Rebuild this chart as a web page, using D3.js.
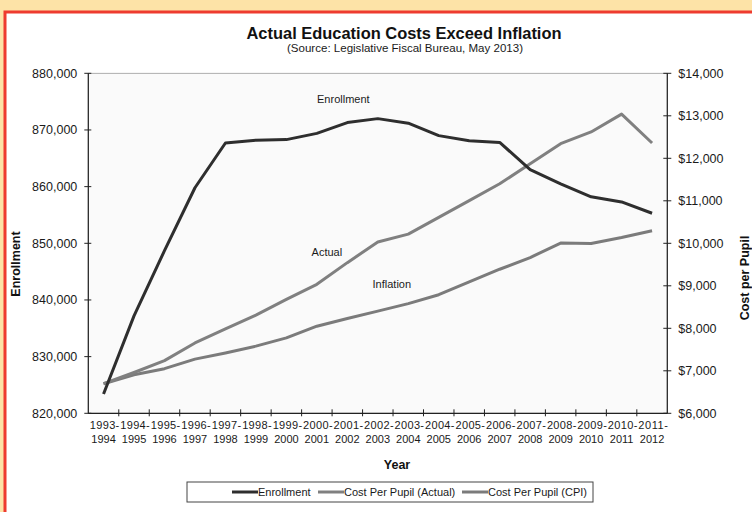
<!DOCTYPE html>
<html>
<head>
<meta charset="utf-8">
<script src="https://cdn.jsdelivr.net/npm/d3@7"></script>
<style>
  body { margin: 0; background: #fde3a7; }
  svg { display: block; font-family: "Liberation Sans", Arial, sans-serif; }
  .tick-y { font-size: 12.5px; fill: #1a1a1a; }
  .tick-x { font-size: 11px; fill: #1a1a1a; }
  .series { fill: none; stroke-width: 3; stroke-linejoin: round; }
</style>
</head>
<body>
<svg id="chart"></svg>
<script>
const categories = ["1993-1994", "1994-1995", "1995-1996", "1996-1997", "1997-1998", "1998-1999",
  "1999-2000", "2000-2001", "2001-2002", "2002-2003", "2003-2004", "2004-2005", "2005-2006",
  "2006-2007", "2007-2008", "2008-2009", "2009-2010", "2010-2011", "2011-2012"];

const enrollment = [823400, 837200, 848700, 859800, 867700, 868200, 868300, 869400, 871300, 872000,
  871200, 869000, 868100, 867800, 863000, 860500, 858200, 857300, 855300];

const costActual = [6695, 6960, 7240, 7655, 7985, 8310, 8680, 9035, 9545, 10030,
  10215, 10610, 11005, 11400, 11870, 12345, 12620, 13040, 12360];

const costCPI = [6695, 6905, 7050, 7275, 7420, 7580, 7775, 8050, 8230, 8405,
  8580, 8790, 9090, 9390, 9665, 10005, 9995, 10135, 10295];

const leftTicks = [820000, 830000, 840000, 850000, 860000, 870000, 880000];
const rightTicks = [6000, 7000, 8000, 9000, 10000, 11000, 12000, 13000, 14000];

const width = 752;
const height = 512;
const margin = { top: 73.3, right: 84.7, bottom: 98.7, left: 88.3 };

const svg = d3.select("#chart").attr("width", width).attr("height", height);

// frame: white box with red border over the orange page
svg.append("rect")
  .attr("x", 5).attr("y", 12)
  .attr("width", width + 20).attr("height", height + 20)
  .attr("fill", "#ffffff")
  .attr("stroke", "#ee3b2f")
  .attr("stroke-width", 3);

const x = d3.scaleBand()
  .domain(categories)
  .range([margin.left, width - margin.right])
  .padding(0);

const yLeft = d3.scaleLinear()
  .domain([820000, 880000])
  .range([height - margin.bottom, margin.top]);

const yRight = d3.scaleLinear()
  .domain([6000, 14000])
  .range([height - margin.bottom, margin.top]);

const cx = (d, i) => x(categories[i]) + x.bandwidth() / 2;

// plot area
svg.append("rect")
  .attr("x", margin.left).attr("y", margin.top)
  .attr("width", width - margin.right - margin.left)
  .attr("height", height - margin.bottom - margin.top)
  .attr("fill", "#fafafa")
  .attr("stroke", "#9a9a9a")
  .attr("stroke-width", 0.8);

// left axis
const gL = svg.append("g");
gL.append("line")
  .attr("x1", margin.left).attr("x2", margin.left)
  .attr("y1", margin.top).attr("y2", height - margin.bottom)
  .attr("stroke", "#222").attr("stroke-width", 1.2);
gL.selectAll("line.t").data(leftTicks).enter().append("line")
  .attr("class", "t")
  .attr("x1", margin.left - 4).attr("x2", margin.left + 3)
  .attr("y1", d => yLeft(d)).attr("y2", d => yLeft(d))
  .attr("stroke", "#222");
gL.selectAll("text").data(leftTicks).enter().append("text")
  .attr("class", "tick-y")
  .attr("x", margin.left - 11)
  .attr("y", d => yLeft(d))
  .attr("dy", "0.35em")
  .attr("text-anchor", "end")
  .text(d => d3.format(",")(d));

// right axis
const xr = width - margin.right;
const gR = svg.append("g");
gR.append("line")
  .attr("x1", xr).attr("x2", xr)
  .attr("y1", margin.top).attr("y2", height - margin.bottom)
  .attr("stroke", "#222").attr("stroke-width", 1.2);
gR.selectAll("line.t").data(rightTicks).enter().append("line")
  .attr("class", "t")
  .attr("x1", xr - 4).attr("x2", xr + 4)
  .attr("y1", d => yRight(d)).attr("y2", d => yRight(d))
  .attr("stroke", "#222");
gR.selectAll("text").data(rightTicks).enter().append("text")
  .attr("class", "tick-y")
  .attr("x", xr + 11)
  .attr("y", d => yRight(d))
  .attr("dy", "0.35em")
  .text(d => "$" + d3.format(",")(d));

// bottom axis
const yb = height - margin.bottom;
const gB = svg.append("g");
gB.append("line")
  .attr("x1", margin.left).attr("x2", xr)
  .attr("y1", yb).attr("y2", yb)
  .attr("stroke", "#222").attr("stroke-width", 1.2);
gB.selectAll("line.t").data(categories.slice(1)).enter().append("line")
  .attr("class", "t")
  .attr("x1", d => x(d)).attr("x2", d => x(d))
  .attr("y1", yb - 4).attr("y2", yb + 3)
  .attr("stroke", "#222");
const xl = gB.selectAll("text").data(categories).enter().append("text")
  .attr("class", "tick-x")
  .attr("text-anchor", "middle")
  .attr("transform", d => `translate(${x(d) + x.bandwidth() / 2},${yb + 16})`);
xl.append("tspan").attr("x", 1).attr("y", 0)
  .attr("textLength", 29.5).attr("lengthAdjust", "spacing")
  .text(d => d.split("-")[0] + "-");
xl.append("tspan").attr("x", 0).attr("y", 14).text(d => d.split("-")[1]);

// series
const lineL = d3.line().x(cx).y(d => yLeft(d));
const lineR = d3.line().x(cx).y(d => yRight(d));

svg.append("path").datum(costCPI).attr("class", "series")
  .attr("stroke", "#7b7b7b").attr("d", lineR);
svg.append("path").datum(costActual).attr("class", "series")
  .attr("stroke", "#808080").attr("d", lineR);
svg.append("path").datum(enrollment).attr("class", "series")
  .attr("stroke", "#2e2e2e").attr("d", lineL);

// in-plot labels
const inLabels = [
  { text: "Enrollment", i: 8, v: 875500, axis: "L", dx: -4 },
  { text: "Actual", i: 7, v: 9800, axis: "R", dx: 10 },
  { text: "Inflation", i: 9, v: 9030, axis: "R", dx: 14 }
];
svg.selectAll("text.inl").data(inLabels).enter().append("text")
  .attr("class", "inl")
  .attr("font-size", 11)
  .attr("fill", "#1a1a1a")
  .attr("text-anchor", "middle")
  .attr("x", d => x(categories[d.i]) + x.bandwidth() / 2 + d.dx)
  .attr("y", d => (d.axis === "L" ? yLeft(d.v) : yRight(d.v)))
  .attr("dy", "0.35em")
  .text(d => d.text);

// titles
svg.append("text")
  .attr("x", 404).attr("y", 38.5)
  .attr("text-anchor", "middle")
  .attr("font-size", 16).attr("font-weight", "bold")
  .attr("textLength", 315).attr("lengthAdjust", "spacingAndGlyphs")
  .attr("fill", "#111")
  .text("Actual Education Costs Exceed Inflation");
svg.append("text")
  .attr("x", 405).attr("y", 51.5)
  .attr("text-anchor", "middle")
  .attr("font-size", 11)
  .attr("textLength", 236).attr("lengthAdjust", "spacingAndGlyphs")
  .attr("fill", "#1a1a1a")
  .text("(Source:  Legislative  Fiscal Bureau,  May 2013)");

svg.append("text")
  .attr("transform", "translate(20,264) rotate(-90)")
  .attr("text-anchor", "middle")
  .attr("font-size", 12.5).attr("font-weight", "bold")
  .attr("fill", "#111")
  .text("Enrollment");
svg.append("text")
  .attr("transform", "translate(748.5,278) rotate(-90)")
  .attr("text-anchor", "middle")
  .attr("font-size", 12.5).attr("font-weight", "bold")
  .attr("fill", "#111")
  .text("Cost per Pupil");
svg.append("text")
  .attr("x", 397).attr("y", 469)
  .attr("text-anchor", "middle")
  .attr("font-size", 12.5).attr("font-weight", "bold")
  .attr("fill", "#111")
  .text("Year");

// legend
const legendItems = [
  { name: "Enrollment", color: "#2e2e2e", x: 232 },
  { name: "Cost Per Pupil (Actual)", color: "#808080", x: 318 },
  { name: "Cost Per Pupil (CPI)", color: "#7b7b7b", x: 462 }
];
svg.append("rect")
  .attr("x", 187).attr("y", 482)
  .attr("width", 406).attr("height", 20)
  .attr("fill", "#fff")
  .attr("stroke", "#444").attr("stroke-width", 1);
const lg = svg.selectAll("g.leg").data(legendItems).enter().append("g")
  .attr("class", "leg")
  .attr("transform", d => `translate(${d.x},492)`);
lg.append("line")
  .attr("x1", 0).attr("x2", 26)
  .attr("stroke", d => d.color).attr("stroke-width", 3);
lg.append("text")
  .attr("x", 26).attr("dy", "0.35em")
  .attr("font-size", 11).attr("fill", "#1a1a1a")
  .text(d => d.name);
</script>
</body>
</html>
